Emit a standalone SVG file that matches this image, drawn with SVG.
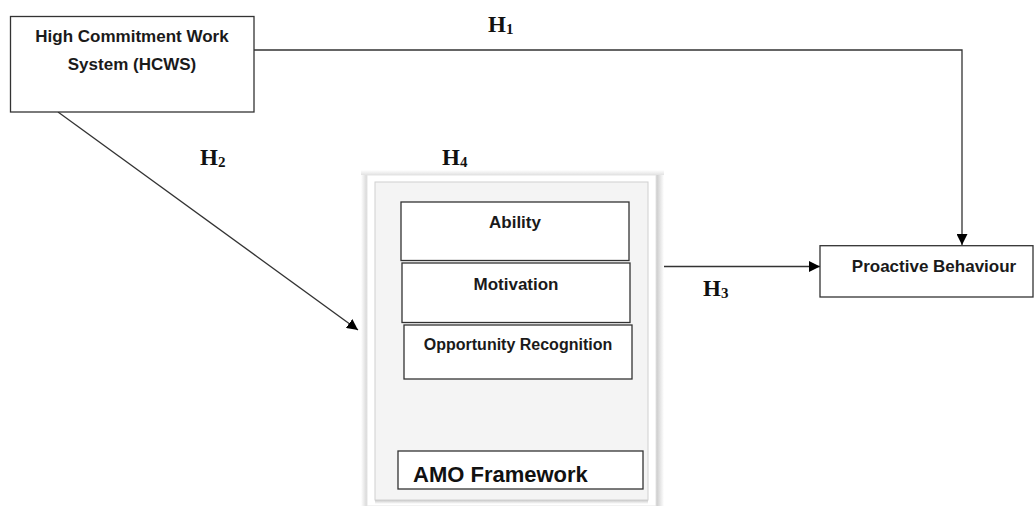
<svg xmlns="http://www.w3.org/2000/svg" width="1034" height="506" viewBox="0 0 1034 506">
<defs>
<style>
.box{fill:#fff;stroke:#333;stroke-width:1.3}
.t{font-family:"Liberation Sans",Arial,sans-serif;font-weight:bold;font-size:17px;fill:#1a1a1a;text-anchor:middle}
.h{font-family:"Liberation Serif","Times New Roman",serif;font-weight:bold;font-size:23px;fill:#111}
.sub{font-size:15px}
.ln{stroke:#333;stroke-width:1.3;fill:none}
</style>
<marker id="arr" viewBox="0 0 10 10" refX="10" refY="5" markerWidth="11" markerHeight="11" markerUnits="userSpaceOnUse" orient="auto">
<path d="M0,0 L10,5 L0,10 Z" fill="#000"/>
</marker>
<linearGradient id="lsh" x1="0" y1="0" x2="1" y2="0">
<stop offset="0" stop-color="#fff"/><stop offset="1" stop-color="#d6d6d6"/>
</linearGradient>
<linearGradient id="rsh" x1="0" y1="0" x2="1" y2="0">
<stop offset="0" stop-color="#c8c8c8"/><stop offset="1" stop-color="#fff"/>
</linearGradient>
<linearGradient id="bsh" x1="0" y1="0" x2="0" y2="1">
<stop offset="0" stop-color="#c8c8c8"/><stop offset="1" stop-color="#fff"/>
</linearGradient>
<linearGradient id="tsh" x1="0" y1="0" x2="0" y2="1">
<stop offset="0" stop-color="#fff"/><stop offset="1" stop-color="#e2e2e2"/>
</linearGradient>
</defs>

<g id="connectors">
<polyline class="ln" points="254,50 962,50 962,245" marker-end="url(#arr)"/>
<line class="ln" x1="58" y1="112" x2="358" y2="330" marker-end="url(#arr)"/>
<line class="ln" x1="660" y1="266.5" x2="820" y2="266.5" marker-end="url(#arr)"/>
</g>

<g id="labels">
<text class="h" x="488" y="32">H<tspan class="sub" dy="2">1</tspan></text>
<text class="h" x="200" y="165">H<tspan class="sub" dy="2">2</tspan></text>
<text class="h" x="703" y="296">H<tspan class="sub" dy="2">3</tspan></text>
<text class="h" x="442" y="165">H<tspan class="sub" dy="2">4</tspan></text>
</g>

<g id="hcws">
<rect class="box" x="10.5" y="16.5" width="243.5" height="95.5"/>
<text class="t" x="132" y="42">High Commitment Work</text>
<text class="t" x="132" y="70">System (HCWS)</text>
</g>

<g id="amo-frame">
<rect x="361" y="172" width="6" height="334" fill="url(#lsh)"/>
<rect x="656" y="172" width="8" height="334" fill="url(#rsh)"/>
<rect x="361" y="170" width="303" height="5" fill="url(#tsh)"/>
<rect x="367" y="175" width="289" height="331" fill="#fff" stroke="#e4e4e4" stroke-width="1"/>
<rect x="375" y="182" width="273" height="318" fill="#f4f4f4" stroke="#d0d0d0" stroke-width="1"/>
<rect x="375" y="500" width="273" height="4" fill="url(#bsh)"/>
</g>

<g id="ability">
<rect class="box" x="401" y="202" width="228" height="58.5"/>
<text class="t" x="515" y="228">Ability</text>
</g>

<g id="motivation">
<rect class="box" x="402" y="263" width="228" height="59.5"/>
<text class="t" x="516" y="290">Motivation</text>
</g>

<g id="opportunity">
<rect class="box" x="404" y="325" width="228" height="54"/>
<text class="t" x="518" y="350" style="font-size:16px">Opportunity Recognition</text>
</g>

<g id="amo-label">
<rect class="box" x="398" y="451" width="245" height="38"/>
<text x="413" y="482" style="font-family:'Liberation Sans',Arial,sans-serif;font-size:22px;font-weight:bold;fill:#111">AMO Framework</text>
</g>

<g id="proactive">
<rect class="box" x="820" y="245.7" width="213" height="51.3"/>
<text class="t" x="934" y="272">Proactive Behaviour</text>
</g>
</svg>
